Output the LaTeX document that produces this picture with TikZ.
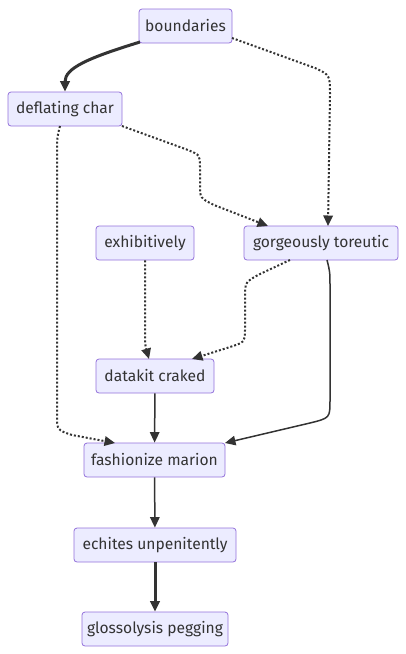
\documentclass[tikz,border=0pt]{standalone}
\usepackage{fontspec}
\setmainfont{Fira Sans}
\usepackage{xcolor}
\usetikzlibrary{arrows.meta, positioning}

\definecolor{boxfill}{HTML}{ECECFF}
\definecolor{boxline}{HTML}{9370DB}
\definecolor{inkgray}{HTML}{333333}

\begin{document}
\begin{tikzpicture}[x=1pt, y=-1pt, >={Triangle[length=10.5pt,width=9.5pt]},
    box/.style={draw=boxline, fill=boxfill, rounded corners=3pt, line width=0.8pt,
        minimum height=34pt, inner sep=0pt, text=inkgray,
        font=\fontsize{15.6}{18}\selectfont},
    link/.style={draw=inkgray, line width=1.5pt, ->},
    boldlink/.style={draw=inkgray, line width=3pt, ->},
    dotlink/.style={draw=inkgray, line width=2pt, dash pattern=on 2pt off 2pt, ->}]

    \useasboundingbox (0,0) rectangle (406,654);

    % =================================================================
    % 1. NODES
    % =================================================================
    \node[box, minimum width=93pt]  (boundaries) at (185.5,26) {boundaries};
    \node[box, minimum width=114pt] (deflating)  at (65,109)   {deflating char};
    \node[box, minimum width=98pt]  (exhibit)    at (145,243)  {exhibitively};
    \node[box, minimum width=154pt] (gorgeous)   at (321,243)  {gorgeously toreutic};
    \node[box, minimum width=118pt] (datakit)    at (155,376)  {datakit craked};
    \node[box, minimum width=141pt] (fashion)    at (154.5,460) {fashionize marion};
    \node[box, minimum width=162pt] (echites)    at (155,545)  {echites unpenitently};
    \node[box, minimum width=146pt] (glosso)     at (155,629)  {glossolysis pegging};

    % =================================================================
    % 2. HELPER COORDINATES ON THE BOX EDGES
    % =================================================================
    \coordinate (bndL)  at (140,42);
    \coordinate (bndR)  at (232,38);
    \coordinate (defR)  at (122,126);
    \coordinate (defB)  at (60,126);
    \coordinate (gorL)  at (290,260);
    \coordinate (gorR)  at (327,260);
    \coordinate (gorTL) at (268,226);
    \coordinate (gorTR) at (328,226);
    \coordinate (datTL) at (149,359);
    \coordinate (datTR) at (192,359);
    \coordinate (fasTL) at (115,443);
    \coordinate (fasTR) at (225,443);

    % =================================================================
    % 3. CONNECTORS
    % =================================================================
    \draw[boldlink] (bndL) .. controls (88,58) and (65,68) .. (deflating.north);

    \draw[dotlink] (bndR) -- (315,68) .. controls (330,75) .. (330,95) -- (gorTR);

    \draw[dotlink] (defR) -- (188,150) .. controls (200,155) .. (200,167)
        -- (200,185) .. controls (200,198) .. (214,205) -- (gorTL);

    \draw[dotlink] (defB) .. controls (57,138) .. (57,150) -- (57,415)
        .. controls (57,430) .. (72,435) -- (fasTL);

    \draw[dotlink] (exhibit.south) -- (145,330) .. controls (145,345) .. (datTL);

    \draw[dotlink] (gorL) -- (260,274) .. controls (245,282) .. (245,298)
        -- (245,330) .. controls (245,342) .. (230,347) -- (datTR);

    \draw[link] (gorR) .. controls (330,272) .. (330,287) -- (330,400)
        .. controls (330,418) .. (310,423) -- (fasTR);

    \draw[link] (datakit) -- (fashion);
    \draw[link] (fashion) -- (echites);
    \draw[boldlink] (echites) -- (glosso);

\end{tikzpicture}
\end{document}
